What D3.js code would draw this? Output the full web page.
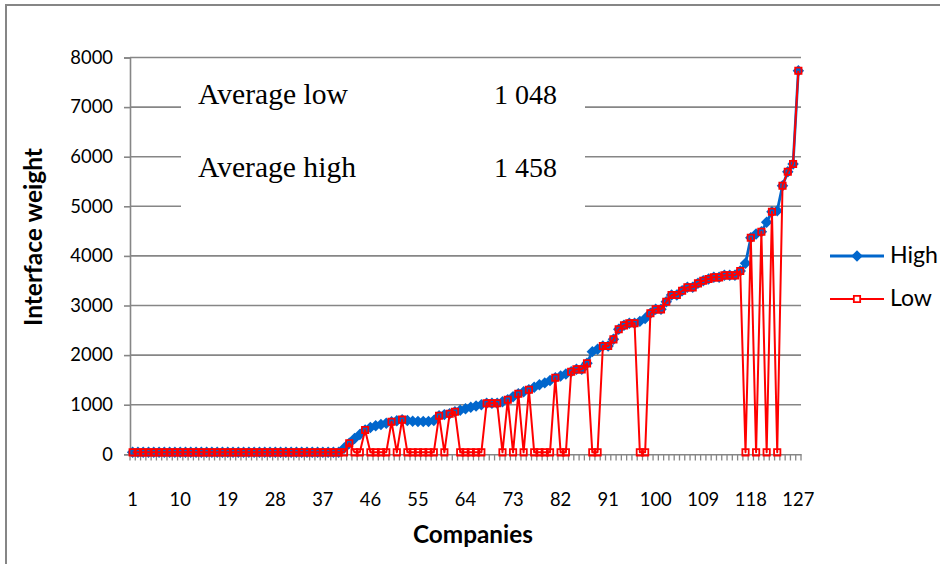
<!DOCTYPE html>
<html><head><meta charset="utf-8">
<script src="https://cdn.jsdelivr.net/npm/d3@7"></script>
<style>body{margin:0;background:#fff}svg{display:block}</style>
</head><body><svg id="c" width="940" height="564"></svg>
<script>
const categories = d3.range(1, 128);
const xTickLabels = [1,10,19,28,37,46,55,64,73,82,91,100,109,118,127];
const yTickValues = [0,1000,2000,3000,4000,5000,6000,7000,8000];
const seriesNames = ["High", "Low"];
const high = [
40,40,40,40,40,40,40,40,40,40,
40,40,40,40,40,40,40,40,40,40,
40,40,40,40,40,40,40,40,40,40,
40,40,40,40,40,40,40,40,40,40,
120,222,320,400,490,540,575,600,625,657,
675,698,680,665,660,660,660,680,778,800,
818,859,890,920,950,975,1000,1028,1028,1028,
1060,1101,1160,1222,1260,1302,1350,1400,1440,1490,
1544,1580,1620,1665,1713,1713,1834,2070,2120,2183,
2183,2318,2520,2600,2641,2641,2680,2740,2843,2923,
2923,3076,3211,3211,3298,3366,3366,3447,3500,3534,
3568,3568,3608,3608,3608,3695,3850,4367,4440,4488,
4680,4891,4910,5415,5697,5853,7734
];
const low = [
40,40,40,40,40,40,40,40,40,40,
40,40,40,40,40,40,40,40,40,40,
40,40,40,40,40,40,40,40,40,40,
40,40,40,40,40,40,40,40,40,40,
40,222,40,40,490,40,40,40,40,657,
40,698,40,40,40,40,40,40,778,40,
818,859,40,40,40,40,40,1028,1028,1028,
40,1101,40,1222,40,1302,40,40,40,40,
1544,40,40,1665,1713,1713,1834,40,40,2183,
2183,2318,2520,2600,2641,2641,40,40,2843,2923,
2923,3076,3211,3211,3298,3366,3366,3447,3500,3534,
3568,3568,3608,3608,3608,3695,40,4367,40,4488,
40,4891,40,5415,5697,5853,7734
];
const annotationLabels = ["Average low", "Average high"];
const annotationValues = ["1 048", "1 458"];

const svg = d3.select("#c");
const gray = "#868686";
const blue = "#0066cc", red = "#ff0000";
const sans = "Lato, 'Open Sans', sans-serif";
const serif = "'Liberation Serif', 'Times New Roman', serif";

function fit(sel, target) {
  const base = 20;
  sel.attr("font-size", base);
  const L = sel.node().getComputedTextLength();
  const s = base * target / L;
  sel.attr("font-size", s);
  return s;
}

// outer border
svg.append("rect").attr("x", 6).attr("y", 5).attr("width", 960).attr("height", 600)
  .attr("fill", "none").attr("stroke", gray).attr("stroke-width", 2);

const x = d3.scaleBand().domain(categories).range([130, 801]).padding(0);
const cx = d => x(d) + x.bandwidth() / 2;
const y = d3.scaleLinear().domain([0, 8000]).range([454.3, 57.5]);

// gridlines
svg.append("g").selectAll("line").data(yTickValues.filter(v => v > 0)).join("line")
  .attr("x1", 130).attr("x2", 801).attr("y1", d => y(d)).attr("y2", d => y(d))
  .attr("stroke", gray).attr("stroke-width", 1.6);

// annotation box (covers gridlines)
svg.append("rect").attr("x", 181).attr("y", 63).attr("width", 404).attr("height", 148).attr("fill", "#fff");

// y axis
const yAxis = svg.append("g").attr("transform", "translate(130,0)")
  .call(d3.axisLeft(y).tickValues(yTickValues).tickSize(6).tickPadding(11).tickFormat(d3.format("d")));
yAxis.select(".domain").attr("stroke", gray).attr("stroke-width", 1.6);
yAxis.selectAll(".tick line").attr("stroke", gray).attr("stroke-width", 1.6);
yAxis.selectAll("text").attr("font-family", sans).attr("fill", "#000");

// x axis
const xAxis = svg.append("g").attr("transform", "translate(0,454.3)")
  .call(d3.axisBottom(x).tickValues(xTickLabels).tickSize(0).tickPadding(52));
xAxis.select(".domain").attr("stroke", gray).attr("stroke-width", 1.6);
xAxis.selectAll("text").attr("font-family", sans).attr("fill", "#000").attr("dy", "0");
// category boundary ticks
svg.append("g").selectAll("line").data(categories.concat([null])).join("line")
  .attr("x1", (d, i) => i < categories.length ? x(d) : 801)
  .attr("x2", (d, i) => i < categories.length ? x(d) : 801)
  .attr("y1", 454.3).attr("y2", 460.5).attr("stroke", gray).attr("stroke-width", 1.3);

const tickSize = fit(xAxis.selectAll(".tick text").filter(d => d === 127), 32);
yAxis.selectAll("text").attr("font-size", tickSize);
xAxis.selectAll("text").attr("font-size", tickSize);

// series
const line = d3.line().x((d, i) => cx(categories[i])).y(d => y(d));
svg.append("path").datum(high).attr("d", line).attr("fill", "none")
  .attr("stroke", blue).attr("stroke-width", 2.8).attr("stroke-linejoin", "round");
const diamond = d3.symbol().type(d3.symbolDiamond2).size(84);
svg.append("g").selectAll("path").data(high).join("path")
  .attr("transform", (d, i) => `translate(${cx(categories[i])},${y(d)})`)
  .attr("d", diamond).attr("fill", blue);
svg.append("path").datum(low).attr("d", line).attr("fill", "none")
  .attr("stroke", red).attr("stroke-width", 2).attr("stroke-linejoin", "round");
const square = d3.symbol().type(d3.symbolSquare).size(40);
svg.append("g").selectAll("path").data(low).join("path")
  .attr("transform", (d, i) => `translate(${cx(categories[i])},${y(d)})`)
  .attr("d", square).attr("fill", "none").attr("stroke", red).attr("stroke-width", 1.8);

// annotation texts
const annY = [104, 177];
annotationLabels.forEach((t, i) => {
  const a = svg.append("text").attr("x", 198).attr("y", annY[i]).attr("font-family", serif).text(t);
  fit(a, i === 0 ? 150 : 158);
  const b = svg.append("text").attr("x", 494).attr("y", annY[i]).attr("font-family", serif).text(annotationValues[i]);
  fit(b, 63);
});

// axis titles
const yt = svg.append("text").attr("transform", "translate(42,237) rotate(-90)")
  .attr("text-anchor", "middle").attr("font-family", sans).attr("font-weight", "bold").text("Interface weight");
fit(yt, 178);
const xt = svg.append("text").attr("x", 473).attr("y", 543)
  .attr("text-anchor", "middle").attr("font-family", sans).attr("font-weight", "bold").text("Companies");
fit(xt, 120);

// legend
const legY = [256, 299];
seriesNames.forEach((n, i) => {
  const g = svg.append("g");
  g.append("line").attr("x1", 830).attr("x2", 884).attr("y1", legY[i]).attr("y2", legY[i])
    .attr("stroke", i === 0 ? blue : red).attr("stroke-width", i === 0 ? 2.8 : 2);
  if (i === 0) {
    g.append("path").attr("transform", `translate(857,${legY[i]})`)
      .attr("d", d3.symbol().type(d3.symbolDiamond2).size(84)).attr("fill", blue);
  } else {
    g.append("path").attr("transform", `translate(857,${legY[i]})`)
      .attr("d", square).attr("fill", "#fff").attr("stroke", red).attr("stroke-width", 1.8);
  }
  const t = g.append("text").attr("x", 890).attr("y", legY[i] + 7).attr("font-family", sans).text(n);
  fit(t, i === 0 ? 48 : 42);
});
</script></body></html>
